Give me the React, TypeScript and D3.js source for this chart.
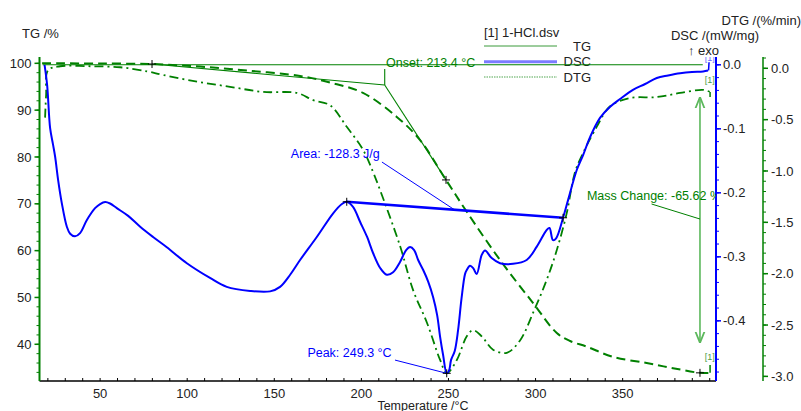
import React from 'react';
import * as d3 from 'd3';

// plot frame
const W = 801;
const H = 411;
const left = 39.5;
const right = 716;
const top = 57;
const bottom = 381;

const GREEN = '#008000';
const BLUE = '#0000ff';
const FONT = 'Liberation Sans, Arial, sans-serif';

// TG (%) vs temperature (°C)
const tgData: [number, number][] = [
  [16.7, 100], [27, 100], [50, 99.95], [79.8, 99.85], [107.4, 99.3], [136.1, 98.4],
  [164.8, 97.3], [182, 95.9], [200.9, 93.7], [220.5, 88.5], [233.7, 83.6], [248.6, 75.1],
  [260.5, 68.3], [279.6, 58.0], [298.6, 48.8], [312.2, 42.4], [319.8, 40.7], [329.4, 39.5],
  [344.5, 37.3], [363.8, 36.0], [378.9, 34.9], [394.4, 33.9], [400.2, 33.9],
];

// DSC (mW/mg)
const dscData: [number, number][] = [
  [18.1, 0.0], [19.6, -0.032], [21.3, -0.099], [23.0, -0.125], [24.2, -0.144], [25.9, -0.18],
  [28.0, -0.216], [30.9, -0.253], [32.8, -0.264], [35.6, -0.268], [38.5, -0.263], [42.4, -0.2425],
  [47.1, -0.224], [50, -0.2175], [52.9, -0.2144], [55.7, -0.2167], [59.6, -0.224], [66.1, -0.236],
  [73, -0.253], [80.4, -0.269], [88.3, -0.285], [99.8, -0.31], [113.1, -0.333], [122.7, -0.347],
  [136.1, -0.3534], [147.6, -0.354], [153.3, -0.347], [159.1, -0.328], [164.8, -0.305],
  [174.4, -0.269], [183.8, -0.232], [188.8, -0.2175], [191.6, -0.214], [195.2, -0.222],
  [199.3, -0.2456], [203.3, -0.269], [206.7, -0.294], [210.8, -0.3175], [214.6, -0.328],
  [218.2, -0.324], [222.2, -0.308], [225.7, -0.2894], [228, -0.2847], [230.3, -0.2894],
  [232.6, -0.305], [235.5, -0.3206], [238.4, -0.339], [241.2, -0.363], [243.5, -0.391],
  [245.2, -0.425], [246.9, -0.453], [249, -0.482], [250.4, -0.477], [251.5, -0.461],
  [253.6, -0.447], [255.5, -0.415], [257.5, -0.365], [259.5, -0.327], [260.5, -0.3206],
  [262.4, -0.314], [264.3, -0.318], [266.2, -0.327], [269.1, -0.297], [271, -0.29],
  [274.8, -0.302], [279.6, -0.31], [287.1, -0.311], [294.9, -0.305], [300.7, -0.284],
  [306.4, -0.258], [308, -0.255], [310, -0.274], [311.8, -0.271], [315.8, -0.239],
  [318.7, -0.211], [323.7, -0.164], [327.3, -0.141], [331.3, -0.113], [337, -0.083],
  [342.8, -0.0655], [348.5, -0.0534], [355.9, -0.039], [362.9, -0.03], [369.6, -0.0206],
  [376.1, -0.0167], [383, -0.0133], [389.8, -0.0113], [396.2, -0.0105], [399, -0.009],
];

// DTG (%/min)
const dtgData: [number, number][] = [
  [18.4, -0.48], [19, -0.26], [20.1, -0.02], [27, 0.02], [44.3, 0.02], [61.5, 0.01],
  [77, -0.03], [86.1, -0.065], [105.7, -0.13], [124.6, -0.18], [143.5, -0.23], [163, -0.24],
  [172.3, -0.31], [182, -0.36], [191.6, -0.57], [201, -0.795], [206.7, -1.01], [210.7, -1.185],
  [222.2, -1.73], [229.7, -2.16], [237.7, -2.48], [245.2, -2.84], [249, -2.97], [254.8, -2.84],
  [260.5, -2.61], [264.1, -2.55], [269.1, -2.61], [275.6, -2.74], [283.5, -2.77], [291.1, -2.65],
  [298.6, -2.38], [306.4, -2.06], [312.2, -1.77], [317.9, -1.41], [321.5, -1.09], [323.7, -0.96],
  [335.1, -0.57], [342.8, -0.37], [354.2, -0.29], [369.6, -0.28], [383, -0.24], [396.2, -0.21],
  [400.2, -0.23],
];

const xTicks = [50, 100, 150, 200, 250, 300, 350];
const tgTicks = [40, 50, 60, 70, 80, 90, 100];
const dscTicks = [0, -0.1, -0.2, -0.3, -0.4];
const dtgTicks = [0, -0.5, -1.0, -1.5, -2.0, -2.5, -3.0];

// evaluation results
const onsetT = 213.4;
const peakT = 249.3;
const areaText = 'Area: -128.3 J/g';
const massChangeText = 'Mass Change: -65.62 %';

const Plus = ({ px, py }: { px: number; py: number }) => (
  <g stroke="#000" strokeWidth={1}>
    <line x1={px - 4} x2={px + 4} y1={py} y2={py} />
    <line x1={px} x2={px} y1={py - 4} y2={py + 4} />
  </g>
);

export default function App() {
  const x = d3.scaleLinear().domain([15.2, 403.6]).range([left, right]);
  const yTG = d3.scaleLinear().domain([32.16, 101.35]).range([bottom, top]);
  const yDSC = d3.scaleLinear().domain([-0.494, 0.0122]).range([bottom, top]);
  const yDTG = d3.scaleLinear().domain([-3.045, 0.11]).range([bottom, top]);

  const mk = (y: d3.ScaleLinear<number, number>) =>
    d3.line<[number, number]>()
      .x(d => x(d[0]))
      .y(d => y(d[1]))
      .curve(d3.curveCatmullRom.alpha(0.5));

  const xMinor = d3.range(20, 401, 10);
  const tgMinor = d3.range(34, 101, 2);
  const dscMinor = d3.range(-0.48, 0.001, 0.02);
  const dtgMinor = d3.range(-3.0, 0.101, 0.1);

  const onsetTG = 95.37;
  const arrowT = 394.4;

  return (
    <div style={{ position: 'absolute', left: 0, top: 0 }}>
      <svg width={W} height={H} style={{ display: 'block', fontFamily: FONT }}>
        <defs>
          <clipPath id="plot">
            <rect x={left} y={top} width={right - left} height={bottom - top} />
          </clipPath>
          <marker id="arr" viewBox="0 0 10 10" refX="10" refY="5" markerWidth="7" markerHeight="7" orient="auto-start-reverse">
            <path d="M0,1 L10,5 L0,9" fill="none" stroke="#5cb85c" strokeWidth={1.6} />
          </marker>
        </defs>
        <rect width={W} height={H} fill="#fff" />

        {/* titles */}
        <text x={22} y={38} fontSize={13} fill="#222">TG /%</text>
        <text x={801} y={25} fontSize={13} fill="#222" textAnchor="end">DTG /(%/min)</text>
        <text x={759} y={40} fontSize={13} fill="#222" textAnchor="end">DSC /(mW/mg)</text>
        <text x={688} y={55} fontSize={13} fill="#222">↑ exo</text>
        <text x={423} y={410} fontSize={12.5} fill="#222" textAnchor="middle">Temperature /°C</text>

        {/* legend */}
        <text x={484} y={37} fontSize={13} fill="#222">[1] 1-HCl.dsv</text>
        <line x1={484} x2={557} y1={46} y2={46} stroke="#3a9a3a" strokeWidth={1} />
        <text x={591} y={51} fontSize={13} fill="#222" textAnchor="end">TG</text>
        <line x1={484} x2={557} y1={61.7} y2={61.7} stroke="#7b7bff" strokeWidth={3} />
        <text x={591} y={66} fontSize={13} fill="#222" textAnchor="end">DSC</text>
        <line x1={484} x2={557} y1={77} y2={77} stroke="#8ac48a" strokeWidth={1.5} strokeDasharray="1.5,1" />
        <text x={591} y={82} fontSize={13} fill="#222" textAnchor="end">DTG</text>

        {/* x axis */}
        <line x1={left} x2={right} y1={bottom} y2={bottom} stroke="#000" strokeWidth={1.5} />
        {xMinor.map(t => (
          <line key={'xm' + t} x1={x(t)} x2={x(t)} y1={bottom} y2={bottom - 3} stroke="#000" />
        ))}
        {xTicks.map(t => (
          <text key={'xt' + t} x={x(t)} y={398} fontSize={13} fill="#222" textAnchor="middle">{t}</text>
        ))}

        {/* TG axis */}
        <line x1={left} x2={left} y1={top} y2={bottom} stroke={GREEN} strokeWidth={2} />
        {tgMinor.map(v => (
          <line key={'tm' + v} x1={left - 3} x2={left} y1={yTG(v)} y2={yTG(v)} stroke={GREEN} />
        ))}
        {tgTicks.map(v => (
          <g key={'tt' + v}>
            <line x1={left - 5} x2={left} y1={yTG(v)} y2={yTG(v)} stroke={GREEN} strokeWidth={1.5} />
            <text x={31.5} y={yTG(v)} dy="0.35em" fontSize={13} fill="#222" textAnchor="end">{v}</text>
          </g>
        ))}

        {/* DSC axis */}
        <line x1={right} x2={right} y1={top} y2={bottom} stroke={BLUE} strokeWidth={2} />
        {dscMinor.map(v => (
          <line key={'dm' + v} x1={right} x2={right + 3} y1={yDSC(v)} y2={yDSC(v)} stroke={BLUE} />
        ))}
        {dscTicks.map(v => (
          <g key={'dt' + v}>
            <line x1={right} x2={right + 5} y1={yDSC(v)} y2={yDSC(v)} stroke={BLUE} strokeWidth={1.5} />
            <text x={723} y={yDSC(v)} dy="0.35em" fontSize={13} fill="#222">{v.toFixed(1)}</text>
          </g>
        ))}

        {/* DTG axis */}
        <line x1={763} x2={763} y1={top} y2={bottom} stroke={GREEN} strokeWidth={1.5} />
        {dtgMinor.map(v => (
          <line key={'gm' + v} x1={763} x2={766} y1={yDTG(v)} y2={yDTG(v)} stroke={GREEN} />
        ))}
        {dtgTicks.map(v => (
          <g key={'gt' + v}>
            <line x1={763} x2={768} y1={yDTG(v)} y2={yDTG(v)} stroke={GREEN} strokeWidth={1.5} />
            <text x={771} y={yDTG(v)} dy="0.35em" fontSize={13} fill="#222">{v.toFixed(1)}</text>
          </g>
        ))}

        <g clipPath="url(#plot)">
          {/* onset construction */}
          <g stroke={GREEN} strokeWidth={1.1} fill="none">
            <line x1={x(17)} x2={x(396)} y1={yTG(99.7)} y2={yTG(99.7)} />
            <line x1={x(79.8)} x2={x(onsetT)} y1={yTG(99.85)} y2={yTG(onsetTG)} />
            <line x1={x(onsetT)} x2={x(248.6)} y1={yTG(onsetTG)} y2={yTG(75.1)} />
            <line x1={x(onsetT)} x2={x(onsetT)} y1={yTG(onsetTG)} y2={yTG(98.8)} />
          </g>

          {/* curves */}
          <path d={mk(yTG)(tgData) ?? ''} fill="none" stroke={GREEN} strokeWidth={2} strokeDasharray="9,5" />
          <path d={mk(yDTG)(dtgData) ?? ''} fill="none" stroke={GREEN} strokeWidth={1.8} strokeDasharray="9,4,2,4" />
          <path d={mk(yDSC)(dscData) ?? ''} fill="none" stroke={BLUE} strokeWidth={2} />

          {/* end hooks */}
          <line x1={x(399.3)} x2={x(399.6)} y1={yDSC(-0.009)} y2={yDSC(0.004)} stroke={BLUE} strokeWidth={1.5} />
          <line x1={x(400.2)} x2={x(400.2)} y1={yDTG(-0.23)} y2={yDTG(-0.28)} stroke={GREEN} strokeWidth={1.5} />
          <line x1={x(400.2)} x2={x(400.2)} y1={yTG(33.9)} y2={yTG(35.6)} stroke={GREEN} strokeWidth={1.5} />
          <text x={x(399.5) - 4} y={yDSC(0.006)} fontSize={9} fill="#6f6fff">[1]</text>
          <text x={x(399.5) - 4} y={yDTG(-0.14)} fontSize={9} fill="#4aa04a">[1]</text>
          <text x={x(399.5) - 4} y={yTG(36.6)} fontSize={9} fill="#4aa04a">[1]</text>

          {/* DSC area */}
          <line x1={x(191.6)} x2={x(315.8)} y1={yDSC(-0.214)} y2={yDSC(-0.239)} stroke={BLUE} strokeWidth={2.6} />
          <line x1={x(211.8)} x2={x(253.7)} y1={yDSC(-0.1519)} y2={yDSC(-0.2269)} stroke={BLUE} strokeWidth={1} />
          <text x={x(159.5)} y={yDSC(-0.1455)} fontSize={12.5} fill={BLUE}>{areaText}</text>

          {/* DSC peak */}
          <line x1={x(219.3)} x2={x(249)} y1={yDSC(-0.4613)} y2={yDSC(-0.482)} stroke={BLUE} strokeWidth={1} />
          <text x={x(169)} y={yDSC(-0.456)} fontSize={12.5} fill={BLUE}>{`Peak: ${peakT} °C`}</text>

          {/* mass change */}
          <line x1={x(arrowT)} x2={x(arrowT)} y1={yTG(92.8)} y2={yTG(40.3)} stroke="#5cb85c" strokeWidth={1.6}
            markerStart="url(#arr)" markerEnd="url(#arr)" />
          <line x1={x(366.6)} x2={x(arrowT)} y1={yTG(69.96)} y2={yTG(66.75)} stroke={GREEN} strokeWidth={1} />
          <text x={x(329.5)} y={yTG(70.8)} fontSize={12.5} fill={GREEN}>{massChangeText}</text>

          {/* markers */}
          <Plus px={x(79.8)} py={yTG(99.85)} />
          <Plus px={x(248.6)} py={yTG(75.1)} />
          <Plus px={x(191.6)} py={yDSC(-0.214)} />
          <Plus px={x(315.8)} py={yDSC(-0.239)} />
          <Plus px={x(249)} py={yDSC(-0.482)} />
          <Plus px={x(arrowT)} py={yTG(33.9)} />
        </g>

        <text x={x(214.2)} y={67} fontSize={12.5} fill={GREEN}>{`Onset: ${onsetT} °C`}</text>
      </svg>
    </div>
  );
}
